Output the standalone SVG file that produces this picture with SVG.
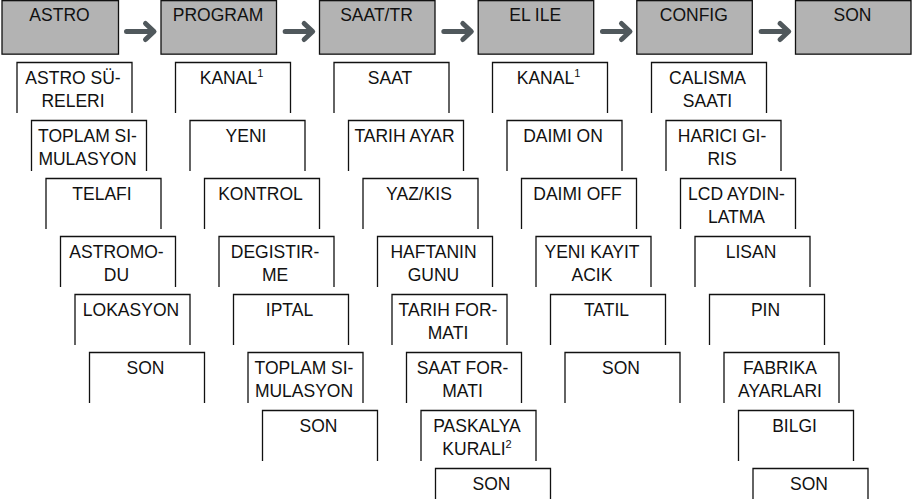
<svg xmlns="http://www.w3.org/2000/svg" xmlns:xlink="http://www.w3.org/1999/xlink" width="915" height="499" viewBox="0 0 915 499">
<style>
text{font-family:"Liberation Sans",Arial,sans-serif;font-size:17.5px;fill:#111;text-anchor:middle}
.hd{fill:#b3b3b3;stroke:#111;stroke-width:1.3}
.bx{fill:#fff;stroke:#111;stroke-width:1.3}
.sup{font-size:11px}
.ar{fill:none;stroke:#50585c;stroke-width:5;stroke-linecap:round;stroke-linejoin:round}
</style>
<defs>
<g id="arrow"><path class="ar" d="M126.5,31.5 H153 M145.5,23.5 L154,31.5 L145.5,39.5"/></g>
</defs>
<g id="connectors">
<use xlink:href="#arrow" href="#arrow" x="0"/>
<use xlink:href="#arrow" href="#arrow" x="158.66"/>
<use xlink:href="#arrow" href="#arrow" x="317.32"/>
<use xlink:href="#arrow" href="#arrow" x="475.98"/>
<use xlink:href="#arrow" href="#arrow" x="634.64"/>
</g>
<g id="h-astro"><rect class="hd" x="2" y="0.65" width="116.5" height="53.5"/><text x="59.5" y="20.7">ASTRO</text></g>
<g id="h-program"><rect class="hd" x="161" y="0.65" width="115.5" height="53.5"/><text x="218" y="20.7">PROGRAM</text></g>
<g id="h-saat"><rect class="hd" x="319.5" y="0.65" width="115.5" height="53.5"/><text x="376.5" y="20.7">SAAT/TR</text></g>
<g id="h-elile"><rect class="hd" x="478.2" y="0.65" width="115.5" height="53.5"/><text x="535.2" y="20.7">EL ILE</text></g>
<g id="h-config"><rect class="hd" x="636.8" y="0.65" width="115.5" height="53.5"/><text x="693.8" y="20.7">CONFIG</text></g>
<g id="h-son"><rect class="hd" x="795.5" y="0.65" width="115.5" height="53.5"/><text x="852.5" y="20.7">SON</text></g>

<g id="a0"><path class="bx" d="M17,113 V62.5 H132 V113"/><text x="73" y="84.3">ASTRO SÜ-</text><text x="73" y="106.5">RELERI</text></g>
<g id="a1"><path class="bx" d="M31.5,171 V120.5 H146.5 V171"/><text x="87.5" y="142.3">TOPLAM SI-</text><text x="87.5" y="164.5">MULASYON</text></g>
<g id="a2"><path class="bx" d="M46,229 V178.5 H161 V229"/><text x="102" y="200.3">TELAFI</text></g>
<g id="a3"><path class="bx" d="M60.5,287 V236.5 H175.5 V287"/><text x="116.5" y="258.3">ASTROMO-</text><text x="116.5" y="280.5">DU</text></g>
<g id="a4"><path class="bx" d="M75,345 V294.5 H190 V345"/><text x="131" y="316.3">LOKASYON</text></g>
<g id="a5"><path class="bx" d="M89.5,403 V352.5 H204.5 V403"/><text x="145.5" y="374.3">SON</text></g>

<g id="p0"><path class="bx" d="M175.5,113 V62.5 H290.5 V113"/><text x="231.5" y="84.3">KANAL<tspan class="sup" dy="-7">1</tspan></text></g>
<g id="p1"><path class="bx" d="M190,171 V120.5 H305 V171"/><text x="246" y="142.3">YENI</text></g>
<g id="p2"><path class="bx" d="M204.5,229 V178.5 H319.5 V229"/><text x="260.5" y="200.3">KONTROL</text></g>
<g id="p3"><path class="bx" d="M219,287 V236.5 H334 V287"/><text x="275" y="258.3">DEGISTIR-</text><text x="275" y="280.5">ME</text></g>
<g id="p4"><path class="bx" d="M233.5,345 V294.5 H348.5 V345"/><text x="289.5" y="316.3">IPTAL</text></g>
<g id="p5"><path class="bx" d="M248,403 V352.5 H363 V403"/><text x="304" y="374.3">TOPLAM SI-</text><text x="304" y="396.5">MULASYON</text></g>
<g id="p6"><path class="bx" d="M262.5,461 V410.5 H377.5 V461"/><text x="318.5" y="432.3">SON</text></g>

<g id="s0"><path class="bx" d="M334,113 V62.5 H449 V113"/><text x="390" y="84.3">SAAT</text></g>
<g id="s1"><path class="bx" d="M348.5,171 V120.5 H463.5 V171"/><text x="404.5" y="142.3">TARIH AYAR</text></g>
<g id="s2"><path class="bx" d="M363,229 V178.5 H478 V229"/><text x="419" y="200.3">YAZ/KIS</text></g>
<g id="s3"><path class="bx" d="M377.5,287 V236.5 H492.5 V287"/><text x="433.5" y="258.3">HAFTANIN</text><text x="433.5" y="280.5">GUNU</text></g>
<g id="s4"><path class="bx" d="M392,345 V294.5 H507 V345"/><text x="448" y="316.3">TARIH FOR-</text><text x="448" y="338.5">MATI</text></g>
<g id="s5"><path class="bx" d="M406.5,403 V352.5 H521.5 V403"/><text x="462.5" y="374.3">SAAT FOR-</text><text x="462.5" y="396.5">MATI</text></g>
<g id="s6"><path class="bx" d="M421,461 V410.5 H536 V461"/><text x="477" y="432.3">PASKALYA</text><text x="477" y="454.5">KURALI<tspan class="sup" dy="-7">2</tspan></text></g>
<g id="s7"><path class="bx" d="M435.5,519 V468.5 H550.5 V519"/><text x="491.5" y="490.3">SON</text></g>

<g id="e0"><path class="bx" d="M492.5,113 V62.5 H607.5 V113"/><text x="548.5" y="84.3">KANAL<tspan class="sup" dy="-7">1</tspan></text></g>
<g id="e1"><path class="bx" d="M507,171 V120.5 H622 V171"/><text x="563" y="142.3">DAIMI ON</text></g>
<g id="e2"><path class="bx" d="M521.5,229 V178.5 H636.5 V229"/><text x="577.5" y="200.3">DAIMI OFF</text></g>
<g id="e3"><path class="bx" d="M536,287 V236.5 H651 V287"/><text x="592" y="258.3">YENI KAYIT</text><text x="592" y="280.5">ACIK</text></g>
<g id="e4"><path class="bx" d="M550.5,345 V294.5 H665.5 V345"/><text x="606.5" y="316.3">TATIL</text></g>
<g id="e5"><path class="bx" d="M565,403 V352.5 H680 V403"/><text x="621" y="374.3">SON</text></g>

<g id="c0"><path class="bx" d="M651.5,113 V62.5 H766.5 V113"/><text x="707.5" y="84.3">CALISMA</text><text x="707.5" y="106.5">SAATI</text></g>
<g id="c1"><path class="bx" d="M666,171 V120.5 H781 V171"/><text x="722" y="142.3">HARICI GI-</text><text x="722" y="164.5">RIS</text></g>
<g id="c2"><path class="bx" d="M680.5,229 V178.5 H795.5 V229"/><text x="736.5" y="200.3">LCD AYDIN-</text><text x="736.5" y="222.5">LATMA</text></g>
<g id="c3"><path class="bx" d="M695,287 V236.5 H810 V287"/><text x="751" y="258.3">LISAN</text></g>
<g id="c4"><path class="bx" d="M709.5,345 V294.5 H824.5 V345"/><text x="765.5" y="316.3">PIN</text></g>
<g id="c5"><path class="bx" d="M724,403 V352.5 H839 V403"/><text x="780" y="374.3">FABRIKA</text><text x="780" y="396.5">AYARLARI</text></g>
<g id="c6"><path class="bx" d="M738.5,461 V410.5 H853.5 V461"/><text x="794.5" y="432.3">BILGI</text></g>
<g id="c7"><path class="bx" d="M753,519 V468.5 H868 V519"/><text x="809" y="490.3">SON</text></g>
</svg>
